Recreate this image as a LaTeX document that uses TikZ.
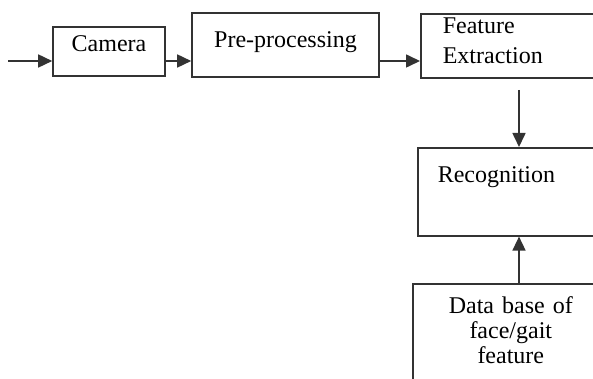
\documentclass[tikz,border=0pt]{standalone}
\usepackage{fontspec}
\setmainfont{Liberation Serif}
\usetikzlibrary{arrows.meta}
\definecolor{Ink}{HTML}{333333}

\begin{document}
\begin{tikzpicture}[x=0.5pt,y=-0.5pt,>={Triangle[length=7pt,width=6.5pt]},
    stage/.style={draw=Ink,line width=0.8pt,inner sep=0pt,font=\fontsize{12}{15}\selectfont},
    flow/.style={->,draw=Ink,line width=0.8pt}]
    \useasboundingbox (0,0) rectangle (593,379);
    \clip (0,0) rectangle (593,379);
    % processing chain
    \node[stage,minimum width=56pt,minimum height=24.5pt,text height=8pt,text depth=7.5pt]
      (cam) at (109,51.5) {Camera};
    \node[stage,minimum width=93.5pt,minimum height=32pt,text height=8pt,text depth=5pt]
      (pre) at (285.5,45) {Pre-processing};
    \node[stage,anchor=north west,text width=88pt,inner xsep=11pt,minimum height=32pt,align=left,text height=8pt,text depth=20pt]
      (fext) at (420,13) {Feature\\Extraction};
    \node[stage,anchor=north west,text width=90pt,inner xsep=10pt,minimum height=44pt,align=left,text height=8pt,text depth=17.5pt]
      (recog) at (417,147) {Recognition};
    \node[stage,anchor=north west,text width=70pt,inner xsep=14pt,inner ysep=7pt,align=center,text height=8pt,text depth=60pt,font=\fontsize{12}{12.5}\selectfont]
      (dbase) at (412,283) {Data base of\\face/gait\\feature};
    % connectors
    \coordinate (src) at (8,61);
    \coordinate (drop) at (519,90);
    \draw[flow] (src) -- (cam.west |- src);
    \draw[flow] (cam.east |- src) -- (pre.west |- src);
    \draw[flow] (pre.east |- src) -- (fext.west |- src);
    \draw[flow] (drop) -- (drop |- recog.north);
    \draw[flow] (dbase.north -| drop) -- (drop |- recog.south);
\end{tikzpicture}
\end{document}
